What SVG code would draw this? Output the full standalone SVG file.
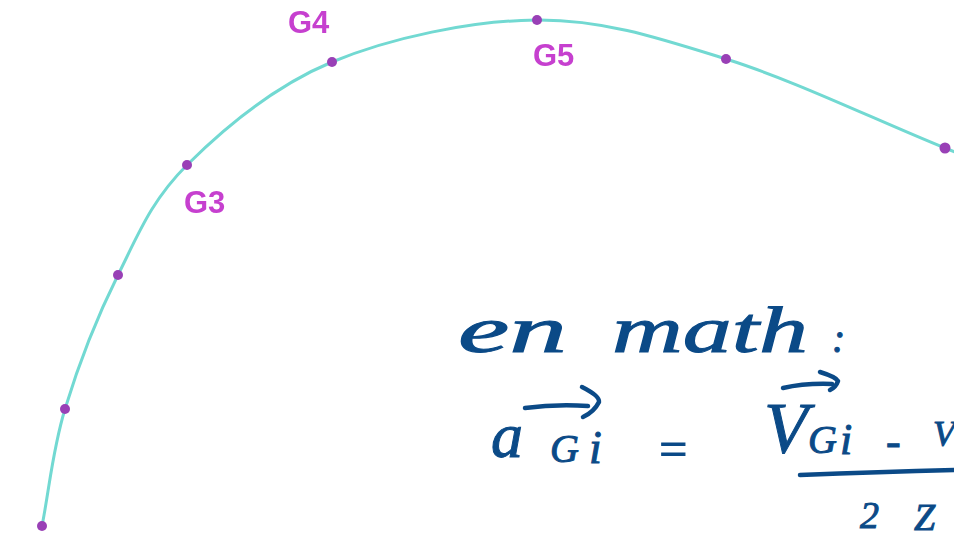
<svg xmlns="http://www.w3.org/2000/svg" width="954" height="538" viewBox="0 0 954 538">
<defs>
<style>
.lbl{font-family:"Liberation Sans",Arial,sans-serif;font-weight:bold;font-size:31px;fill:#c63fcf;}
.dot{fill:#9940b6;}
.hw{font-family:"Liberation Serif","Times New Roman",serif;font-style:italic;fill:#0b4a87;stroke:#0b4a87;stroke-width:1px;}
.ink{fill:none;stroke:#0b4a87;stroke-width:4.5;stroke-linecap:round;stroke-linejoin:round;}
</style>
<filter id="soft" x="-20%" y="-20%" width="140%" height="140%"><feGaussianBlur stdDeviation="0.7"/></filter>
</defs>
<rect width="954" height="538" fill="#ffffff"/>
<g id="connectors">
<path d="M42,526 C49.7,487 52.3,450.8 65,409 C77.7,367.2 97.7,315.7 118,275 C138.3,234.3 151.3,200.5 187,165 C222.7,129.5 273.7,86.2 332,62 C390.3,37.8 471.3,20.5 537,20 C602.7,19.5 658,37.7 726,59 C794,80.3 872,118.3 945,148 L962,155" fill="none" stroke="#72d9d2" stroke-width="3" filter="url(#soft)"/>
</g>
<g id="points" filter="url(#soft)">
<circle class="dot" cx="42" cy="526" r="5"/>
<circle class="dot" cx="65" cy="409" r="5"/>
<circle class="dot" cx="118" cy="275" r="5"/>
<circle class="dot" cx="187" cy="165" r="5"/>
<circle class="dot" cx="332" cy="62" r="5"/>
<circle class="dot" cx="537" cy="20" r="5"/>
<circle class="dot" cx="726" cy="59" r="5"/>
<circle class="dot" cx="945" cy="148" r="5.5"/>
</g>
<g id="labels" filter="url(#soft)">
<text class="lbl" x="288" y="33">G4</text>
<text class="lbl" x="533" y="66">G5</text>
<text class="lbl" x="184" y="213">G3</text>
</g>
<g id="note">
<text class="hw" x="458" y="352" font-size="66" textLength="109" lengthAdjust="spacingAndGlyphs">en</text>
<text class="hw" x="612" y="352" font-size="66" textLength="196" lengthAdjust="spacingAndGlyphs">math</text>
<text class="hw" x="832" y="352" font-size="40">:</text>
</g>
<g id="formula">
<text class="hw" x="491" y="457" font-size="64">a</text>
<text class="hw" x="550" y="462" font-size="40">G</text>
<text class="hw" x="589" y="463" font-size="46">i</text>
<text class="hw" x="656" y="466" font-size="50">=</text>
<path class="ink" d="M525,408 Q555,404 588,406"/>
<path class="ink" d="M582,387 Q600,396 599,402 Q594,412 583,417"/>
<text class="hw" x="764" y="452" font-size="72">V</text>
<text class="hw" x="808" y="453" font-size="40">G</text>
<text class="hw" x="840" y="454" font-size="44">i</text>
<text class="hw" x="886" y="456" font-size="44">-</text>
<text class="hw" x="933" y="446" font-size="36">V</text>
<path class="ink" d="M783,388 Q805,383 832,384"/>
<path class="ink" d="M820,372 Q836,377 838,381 Q836,387 830,390"/>
<path class="ink" d="M800,475 Q880,472 956,470"/>
<text class="hw" x="860" y="528" font-size="38">2</text>
<text class="hw" x="914" y="530" font-size="38">Z</text>
</g>
</svg>
